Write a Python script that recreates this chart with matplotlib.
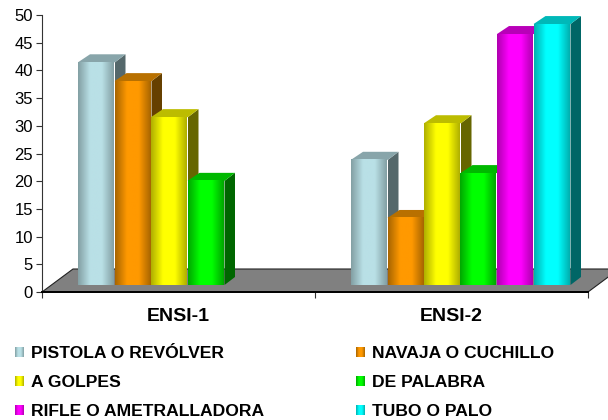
import matplotlib
matplotlib.use("Agg")
import matplotlib.pyplot as plt
import numpy as np
from matplotlib.colors import LinearSegmentedColormap
from matplotlib.patches import Polygon

plt.rcParams["font.family"] = ["Liberation Sans", "DejaVu Sans"]

categories = ["ENSI-1", "ENSI-2"]
series_names = ["PISTOLA O REVÓLVER", "NAVAJA O CUCHILLO", "A GOLPES",
                "DE PALABRA", "RIFLE O AMETRALLADORA", "TUBO O PALO"]
# nan = serie sin barra en ese grupo
pistola = [40.2, 22.6]
navaja = [36.8, 12.1]
golpes = [30.3, 29.2]
palabra = [18.8, 20.2]
rifle = [np.nan, 45.3]
tubo = [np.nan, 47.1]
series_values = [pistola, navaja, golpes, palabra, rifle, tubo]

edge_colors = ["#83a0a4", "#a86500", "#b0b000", "#00a800", "#b000b0", "#00b0b0"]
mid_colors = ["#b9e0e6", "#ff9900", "#ffff00", "#00ff00", "#ff00ff", "#00ffff"]
top_colors = ["#88a5aa", "#b87000", "#bcbc00", "#00b800", "#b800b8", "#00b8b8"]
side_colors = ["#55686b", "#664000", "#666600", "#006600", "#660066", "#006666"]
y_ticks = list(range(0, 51, 5))

W, H = 608, 420
fig = plt.figure(figsize=(W / 100, H / 100), dpi=100, facecolor="white")
ax = fig.add_axes([42 / W, 1 - 292 / H, 546 / W, 277 / H])
ax.set_xlim(0, 2)
ax.set_ylim(0, 50)

# one pixel in data units
px = 2 / 546
py = 50 / 277
base = 7 * py
depth_x = 12 * px
depth_y = 8 * py
margin = 36 * px
slot = 36.5 * px
bar_w = 35.5 * px
side_gap = 1.5 * px


def gradient_cmap(i):
    return LinearSegmentedColormap.from_list(
        f"bar{i}", [edge_colors[i], mid_colors[i], mid_colors[i], edge_colors[i]])


grad = np.array([np.linspace(0, 1, 64)])

ax.add_patch(Polygon(
    [(0, 0), (31 * px, 23 * py), (2 + 31 * px, 23 * py), (2, 0)],
    closed=True, facecolor="#808080", edgecolor="#222222", linewidth=0.8,
    clip_on=False, zorder=1))

z = 2
for c in range(len(categories)):
    for s, vals in enumerate(series_values):
        v = vals[c]
        if np.isnan(v):
            continue
        x0 = c + margin + s * slot
        x1 = x0 + bar_w
        top = base + v
        # cara lateral
        ax.add_patch(Polygon(
            [(x1 + side_gap, base), (x1 + depth_x, base + depth_y),
             (x1 + depth_x, top + depth_y), (x1 + side_gap, top)],
            closed=True, facecolor=side_colors[s], edgecolor="none",
            clip_on=False, zorder=z))
        # cara superior
        ax.add_patch(Polygon(
            [(x0, top), (x0 + depth_x, top + depth_y),
             (x1 + depth_x, top + depth_y), (x1 + side_gap, top)],
            closed=True, facecolor=top_colors[s], edgecolor="none",
            clip_on=False, zorder=z))
        # cara frontal
        ax.imshow(grad, extent=(x0, x1, base, top), aspect="auto",
                  cmap=gradient_cmap(s), interpolation="bilinear",
                  clip_on=False, zorder=z + 0.5)
        z += 1

ax.set_xlim(0, 2)
ax.set_ylim(0, 50)
for name in ["top", "right"]:
    ax.spines[name].set_visible(False)
ax.spines["bottom"].set_linewidth(1.4)
ax.spines["bottom"].set_zorder(100)
ax.spines["left"].set_linewidth(0.8)
ax.spines["left"].set_color("#333333")
ax.set_yticks(y_ticks)
ax.tick_params(axis="y", labelsize=12, length=4, width=0.8, pad=2.5, color="#333333")
ax.set_xticks([0, 1, 2])
ax.set_xticklabels([])
ax.tick_params(axis="x", length=4, width=0.8, color="#333333")
for c, label in enumerate(categories):
    ax.text(c + 0.5, -4.5, label, ha="center", va="center",
            fontsize=14, fontweight="bold", color="black")

# leyenda en dos columnas
leg = fig.add_axes([0, 0, 1, 1], facecolor="none")
leg.set_xlim(0, W)
leg.set_ylim(H, 0)
leg.axis("off")
col_x = [15, 356]
row_y = [352.5, 381, 410.5]
for s, name in enumerate(series_names):
    x = col_x[s % 2]
    y = row_y[s // 2]
    leg.imshow(grad, extent=(x, x + 9, y + 5, y - 5), aspect="auto",
               cmap=gradient_cmap(s), interpolation="bilinear")
    leg.text(x + 16, y + 1.2, name, ha="left", va="center", fontsize=12.6,
             fontweight="bold", color="black")
leg.set_xlim(0, W)
leg.set_ylim(H, 0)

fig.savefig("out.png", dpi=100)
